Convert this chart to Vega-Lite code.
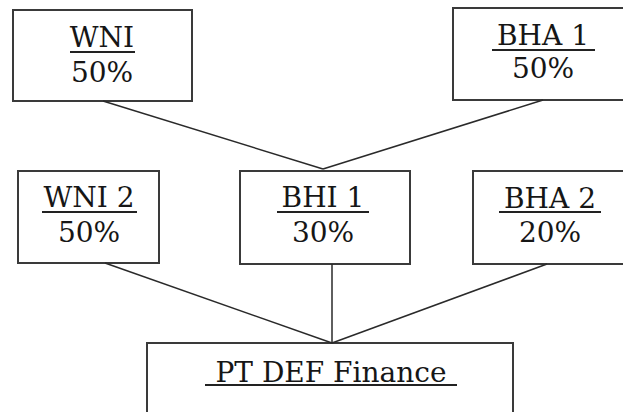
{
  "$schema": "https://vega.github.io/schema/vega-lite/v6.json",
  "autosize": {"type": "fit", "contains": "padding"},
  "width": 623,
  "height": 412,
  "padding": 0,
  "background": "white",
  "config": {"view": {"stroke": null}},
  "datasets": {
    "boxes": [
      {"name": "WNI", "x1": 13, "x2": 192, "y1": 10, "y2": 101},
      {"name": "BHA 1", "x1": 453, "x2": 630, "y1": 8, "y2": 100},
      {"name": "WNI 2", "x1": 18, "x2": 159, "y1": 171, "y2": 263},
      {"name": "BHI 1", "x1": 240, "x2": 410, "y1": 171, "y2": 264},
      {"name": "BHA 2", "x1": 473, "x2": 630, "y1": 171, "y2": 264},
      {"name": "PT DEF Finance", "x1": 147, "x2": 513, "y1": 343, "y2": 420}
    ],
    "links": [
      {"x1": 103, "y1": 101, "x2": 323, "y2": 169},
      {"x1": 543, "y1": 100, "x2": 323, "y2": 169},
      {"x1": 105, "y1": 263, "x2": 332, "y2": 343},
      {"x1": 332, "y1": 264, "x2": 332, "y2": 343},
      {"x1": 547, "y1": 264, "x2": 332, "y2": 343}
    ],
    "labels": [
      {"text": "WNI", "x": 102, "y": 47},
      {"text": "50%", "x": 102, "y": 82},
      {"text": "BHA 1", "x": 543, "y": 45},
      {"text": "50%", "x": 543, "y": 78},
      {"text": "WNI 2", "x": 89, "y": 207},
      {"text": "50%", "x": 89, "y": 242},
      {"text": "BHI 1", "x": 323, "y": 207},
      {"text": "30%", "x": 323, "y": 242},
      {"text": "BHA 2", "x": 550, "y": 208},
      {"text": "20%", "x": 550, "y": 242},
      {"text": "PT DEF Finance", "x": 331, "y": 382}
    ],
    "underlines": [
      {"x1": 70, "x2": 135, "y": 52},
      {"x1": 492, "x2": 595, "y": 50},
      {"x1": 42, "x2": 137, "y": 212},
      {"x1": 277, "x2": 369, "y": 212},
      {"x1": 499, "x2": 601, "y": 212},
      {"x1": 205, "x2": 457, "y": 385}
    ]
  },
  "layer": [
    {
      "data": {"name": "boxes"},
      "mark": {"type": "rect", "fill": "white", "stroke": "#3a3a3a", "strokeWidth": 2, "clip": true},
      "encoding": {
        "x": {"field": "x1", "type": "quantitative", "scale": {"domain": [0, 623], "nice": false, "zero": false}, "axis": null},
        "x2": {"field": "x2"},
        "y": {"field": "y1", "type": "quantitative", "scale": {"domain": [0, 412], "nice": false, "zero": false, "reverse": true}, "axis": null},
        "y2": {"field": "y2"}
      }
    },
    {
      "data": {"name": "links"},
      "mark": {"type": "rule", "stroke": "#2a2a2a", "strokeWidth": 1.5, "clip": true},
      "encoding": {
        "x": {"field": "x1", "type": "quantitative"},
        "x2": {"field": "x2"},
        "y": {"field": "y1", "type": "quantitative"},
        "y2": {"field": "y2"}
      }
    },
    {
      "data": {"name": "underlines"},
      "mark": {"type": "rule", "stroke": "#222", "strokeWidth": 2},
      "encoding": {
        "x": {"field": "x1", "type": "quantitative"},
        "x2": {"field": "x2"},
        "y": {"field": "y", "type": "quantitative"}
      }
    },
    {
      "data": {"name": "labels"},
      "mark": {"type": "text", "font": "DejaVu Serif", "fontSize": 28, "color": "#161616", "align": "center", "baseline": "alphabetic"},
      "encoding": {
        "x": {"field": "x", "type": "quantitative"},
        "y": {"field": "y", "type": "quantitative"},
        "text": {"field": "text"}
      }
    }
  ]
}
